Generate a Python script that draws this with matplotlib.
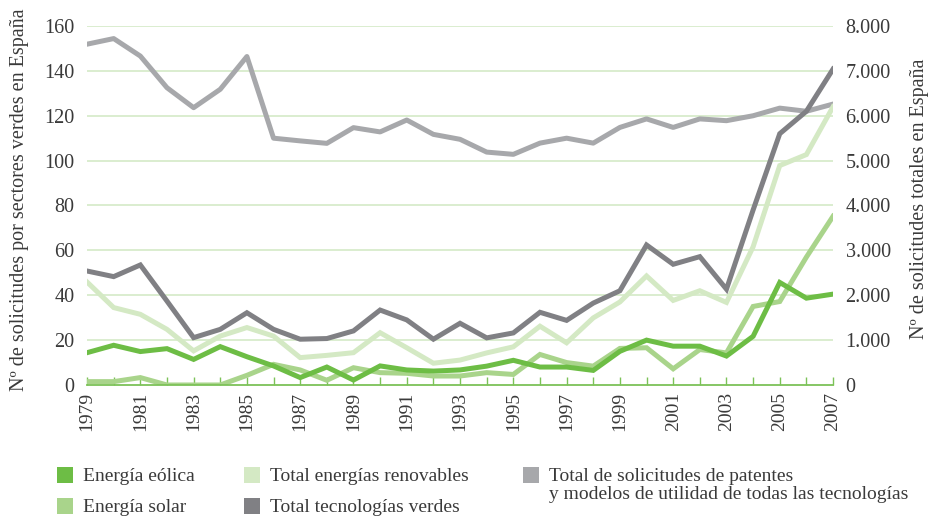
import matplotlib

matplotlib.use("Agg")

import matplotlib.pyplot as plt
from matplotlib.patches import Rectangle

years = list(range(1979, 2008))

# left axis: solicitudes por sectores verdes
eolica = [14.4, 17.7, 14.9, 16.2, 11.4, 17.1, 12.6, 8.5, 3.3, 8.0, 2.2, 8.5, 6.7, 6.2, 6.7,
          8.4, 11.0, 8.0, 8.0, 6.5, 15.0, 20.0, 17.3, 17.3, 12.9, 21.7, 45.7, 38.7, 40.5]
solar = [1.5, 1.5, 3.3, 0.0, 0.0, 0.0, 4.3, 9.2, 6.7, 2.1, 7.7, 5.5, 5.2, 4.0, 4.0,
         5.5, 4.7, 13.6, 10.0, 8.4, 16.3, 16.6, 7.2, 15.8, 14.3, 35.0, 37.2, 57.0, 75.2]
renovables = [45.9, 34.5, 31.5, 24.8, 15.2, 21.8, 25.6, 21.8, 12.2, 13.2, 14.4, 23.3, 16.6, 9.7, 11.1,
              14.3, 17.0, 26.2, 18.8, 29.9, 37.0, 48.6, 37.7, 42.0, 36.8, 61.6, 97.8, 102.7, 124.0]
verdes = [50.8, 48.3, 53.5, 37.4, 21.1, 24.8, 32.2, 24.8, 20.4, 20.7, 24.1, 33.4, 29.0, 20.4, 27.5,
          21.0, 23.2, 32.4, 28.8, 36.5, 42.0, 62.4, 53.8, 57.2, 42.7, 78.0, 112.0, 122.0, 140.8]

# right axis: total de solicitudes, todas las tecnologias
total = [7595, 7720, 7330, 6625, 6180, 6590, 7320, 5500, 5440, 5385, 5735, 5640, 5905, 5585, 5475,
         5190, 5140, 5390, 5500, 5390, 5740, 5930, 5740, 5930, 5890, 6000, 6170, 6100, 6260]

left_ticks = [0, 20, 40, 60, 80, 100, 120, 140, 160]
right_ticks = [0, 1000, 2000, 3000, 4000, 5000, 6000, 7000, 8000]
right_labels = ["0", "1.000", "2.000", "3.000", "4.000", "5.000", "6.000", "7.000", "8.000"]

c_eolica = "#6dbd45"
c_solar = "#a9d48b"
c_renov = "#d4e9c4"
c_verdes = "#808084"
c_total = "#a7a8ab"
c_grid = "#d8eccb"
c_axis = "#7cc258"
c_text = "#3a3a3a"

plt.rcParams["font.family"] = ["Liberation Serif", "DejaVu Serif"]

fig = plt.figure(figsize=(9.29, 5.16), dpi=100)
ax = fig.add_axes([0.0937, 0.2539, 0.803, 0.6957])
ax2 = ax.twinx()

lw = 3.6
ax.plot(years, renovables, color=c_renov, lw=lw, solid_joinstyle="miter", zorder=3)
ax.plot(years, solar, color=c_solar, lw=lw, solid_joinstyle="miter", zorder=4)
ax.plot(years, eolica, color=c_eolica, lw=lw, solid_joinstyle="miter", zorder=5)
ax.plot(years, verdes, color=c_verdes, lw=lw, solid_joinstyle="miter", zorder=6)
ax2.plot(years, total, color=c_total, lw=lw, solid_joinstyle="round", zorder=2)

ax.set_xlim(1979, 2007)
ax.set_ylim(0, 160)
ax2.set_ylim(0, 8000)
ax.set_zorder(ax2.get_zorder() + 1)
ax.patch.set_visible(False)

ax.set_yticks(left_ticks)
ax.set_yticklabels([str(t) for t in left_ticks])
ax2.set_yticks(right_ticks)
ax2.set_yticklabels(right_labels)
for t in left_ticks[1:]:
    ax2.axhline(t * 50, color=c_grid, lw=1.3, zorder=0)

ax.set_xticks(years)
ax.set_xticklabels([str(y) if (y - 1979) % 2 == 0 else "" for y in years], rotation=90)
ax.tick_params(axis="x", direction="in", length=6, width=1, color=c_axis, labelsize=14,
               labelcolor=c_text, pad=5)
ax.tick_params(axis="y", length=0, labelsize=14.5, labelcolor=c_text, pad=9)
ax2.tick_params(axis="y", length=0, labelsize=14.5, labelcolor=c_text, pad=9)
ax2.tick_params(axis="x", length=0)

for a in (ax, ax2):
    for side in ("top", "left", "right", "bottom"):
        a.spines[side].set_visible(False)
ax.spines["bottom"].set_visible(True)
ax.spines["bottom"].set_color(c_axis)
ax.spines["bottom"].set_linewidth(1.3)
ax.spines["bottom"].set_zorder(7)

ax.set_ylabel("Nº de solicitudes por sectores verdes en España", fontsize=14.5, color=c_text, labelpad=11)
ax2.set_ylabel("Nº de solicitudes totales en España", fontsize=14.5, color=c_text, labelpad=14)
ax.yaxis.label.set_y(0.515)
ax2.yaxis.label.set_y(0.518)

# legend drawn by hand (third entry spans two lines)
legend_patches = [
    (0.0616, 0.064, c_eolica),
    (0.0616, 0.004, c_solar),
    (0.2627, 0.064, c_renov),
    (0.2627, 0.004, c_verdes),
    (0.5630, 0.064, c_total),
]
legend_lines = [
    (0.0616, 0.0679, "Energía eólica"),
    (0.0616, 0.0078, "Energía solar"),
    (0.2627, 0.0679, "Total energías renovables"),
    (0.2627, 0.0078, "Total tecnologías verdes"),
    (0.5630, 0.0679, "Total de solicitudes de patentes"),
    (0.5630, 0.0330, "y modelos de utilidad de todas las tecnologías"),
]
for x0, y0, col in legend_patches:
    fig.patches.append(Rectangle((x0, y0), 0.0167, 0.031, transform=fig.transFigure,
                                 facecolor=col, edgecolor="none"))
for x0, yb, label in legend_lines:
    fig.text(x0 + 0.028, yb, label, fontsize=14, color=c_text, va="baseline", ha="left")

fig.savefig("out.png", dpi=100)
